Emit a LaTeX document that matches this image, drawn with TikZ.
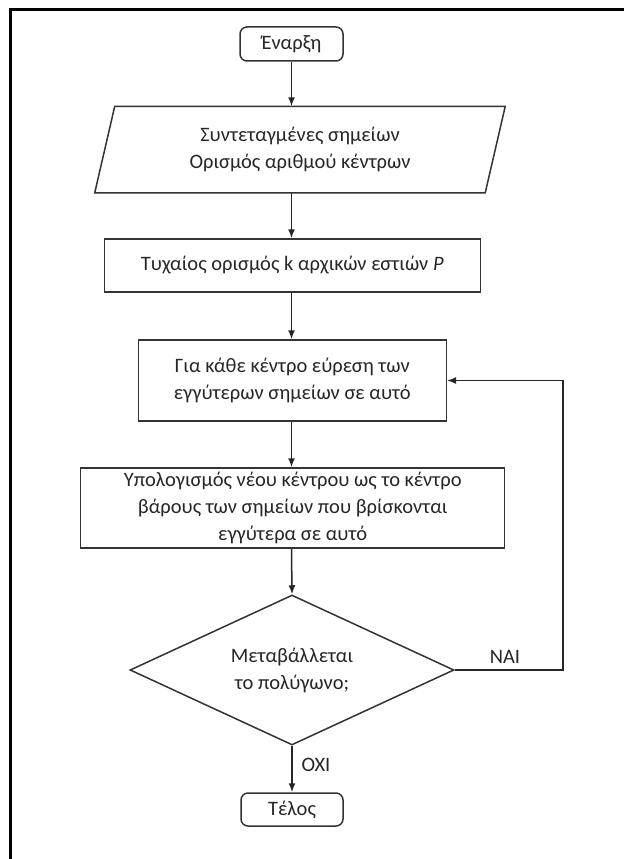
\documentclass[tikz,border=0pt]{standalone}
\usepackage{fontspec}
\setmainfont{Carlito}
\usetikzlibrary{arrows.meta,shapes.geometric}
\tikzset{
  base/.style={draw=black!80, line width=1.5pt, align=center, inner sep=0pt, text=black!85, font=\fontsize{20.5}{27}\selectfont},
  term/.style={base, rounded corners=7pt},
  proc/.style={base, rectangle},
  dec/.style={base, diamond, aspect=2.16},
  conn/.style={draw=black!85, line width=1.5pt, -{Latex[length=9pt,width=7pt]}},
  lbl/.style={font=\fontsize{20.5}{27}\selectfont, text=black!85, inner sep=0pt},
}
\begin{document}
\begin{tikzpicture}[x=1pt,y=-1pt]
\useasboundingbox (0,0) rectangle (624,859);
% frame (cropped)
\draw[line width=3pt] (10.5,859) -- (10.5,9.5) -- (624,9.5);

\node[term, minimum width=103pt, minimum height=34pt] (start) at (291.5,44) {Έναρξη};
\node[base, draw=none, minimum width=409pt, minimum height=85pt] (in) at (300,149.5) {Συντεταγμένες σημείων\\Ορισμός αριθμού κέντρων};
\draw[draw=black!80, line width=1.5pt] ([xshift=20pt]in.north west) -- (in.north east) -- ([xshift=-20pt]in.south east) -- (in.south west) -- cycle;

\node[proc, minimum width=376pt, minimum height=53pt] (init) at (292.3,265.5) {Τυχαίος ορισμός k αρχικών εστιών \textit{P}};
\node[proc, minimum width=308pt, minimum height=81pt] (assign) at (292.3,380.5) {Για κάθε κέντρο εύρεση των\\εγγύτερων σημείων σε αυτό};
\node[proc, minimum width=424pt, minimum height=80pt] (update) at (292.7,508) {Υπολογισμός νέου κέντρου ως το κέντρο\\βάρους των σημείων που βρίσκονται\\εγγύτερα σε αυτό};
\node[dec, minimum width=324pt, minimum height=150pt] (check) at (292,670) {Μεταβάλλεται\\το πολύγωνο;};
\node[term, minimum width=102pt, minimum height=33pt] (stop) at (292,809.5) {Τέλος};

\coordinate (loopb) at (563,670);
\coordinate (loopt) at (563,380.5);

\draw[conn] (start.south) -- (start.south |- in.north);
\draw[conn] (start.south |- in.south) -- (start.south |- init.north);
\draw[conn] (start.south |- init.south) -- (start.south |- assign.north);
\draw[conn] (start.south |- assign.south) -- (start.south |- update.north);
\draw[conn] (start.south |- update.south) -- (check.north);
\draw[conn] (check.south) -- (stop.north);
\draw[conn] (check.east) -- (loopb) -- (loopt) -- (assign.east);

\node[lbl] (yes) at (505,657) {ΝΑΙ};
\node[lbl] (no) at (316,765) {ΟΧΙ};
\end{tikzpicture}
\end{document}
